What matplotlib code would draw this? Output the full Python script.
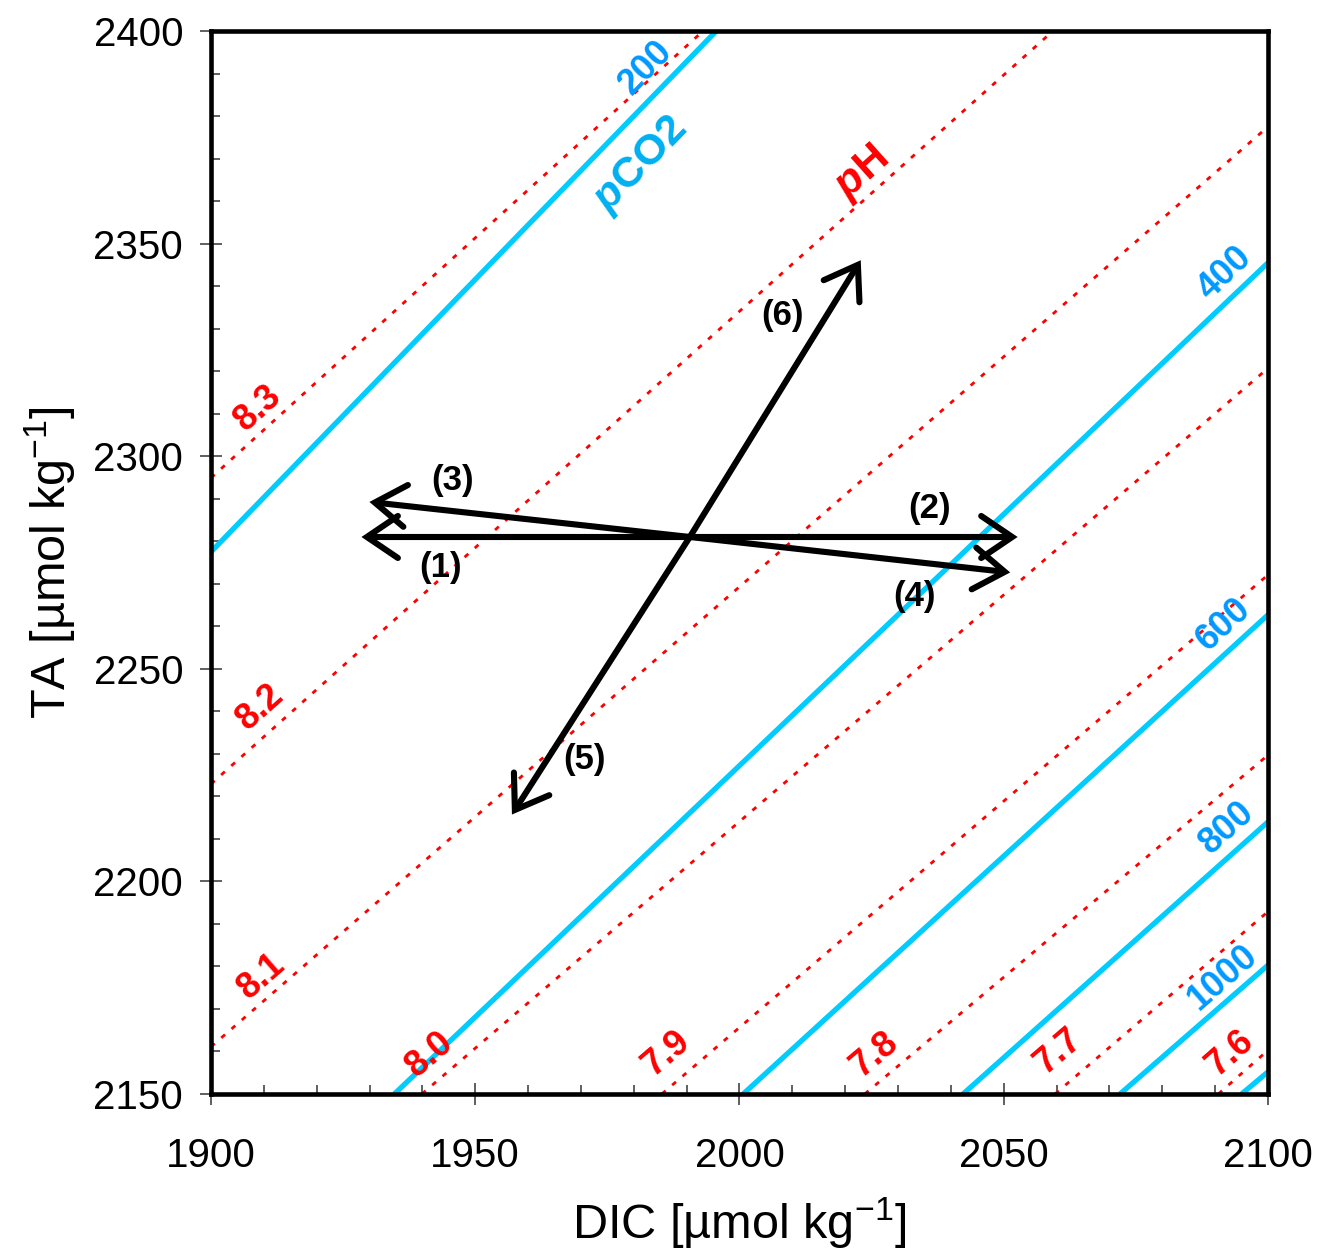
import numpy as np
import matplotlib
matplotlib.use("Agg")
import matplotlib.pyplot as plt
from matplotlib.ticker import MultipleLocator

plt.rcParams['font.family'] = ['Liberation Sans', 'DejaVu Sans']
plt.rcParams['mathtext.fontset'] = 'custom'
plt.rcParams['mathtext.rm'] = 'Liberation Sans'
plt.rcParams['mathtext.it'] = 'Liberation Sans:italic'
plt.rcParams['mathtext.bf'] = 'Liberation Sans:bold'
plt.rcParams['mathtext.bfit'] = 'Liberation Sans:italic:bold'

# pH isolines (start / end points)
ph_levels = ['8.3', '8.2', '8.1', '8.0', '7.9', '7.8', '7.7', '7.6']
ph_dic_start = [1900, 1900, 1900, 1939.9, 1985.3, 2023.7, 2059.7, 2090.6]
ph_ta_start = [2294.9, 2222.9, 2161.1, 2150, 2150, 2150, 2150, 2150]
ph_dic_end = [1993.1, 2059.3, 2100, 2100, 2100, 2100, 2100, 2100]
ph_ta_end = [2400, 2400, 2377.5, 2320.7, 2272.1, 2229.7, 2192.9, 2160.3]
ph_label_dic = [1908.9, 1909.3, 1909.6, 1941.4, 1986.2, 2025.6, 2060.3, 2092.8]
ph_label_ta = [2311.3, 2241.0, 2177.6, 2159.2, 2159.6, 2159.2, 2159.9, 2159.6]

# pCO2 isolines
pco2_levels = ['200', '400', '600', '800', '1000', '']
pco2_dic_start = [1900, 1934.7, 2000.7, 2042.3, 2072.0, 2095.0]
pco2_ta_start = [2277.5, 2150, 2150, 2150, 2150, 2150]
pco2_dic_end = [1995.6, 2100, 2100, 2100, 2100, 2100]
pco2_ta_end = [2400, 2345.5, 2262.7, 2214.0, 2180.3, 2155.2]
pco2_label_dic = [1982.3, 2091.9, 2091.5, 2092.2, 2091.5]
pco2_label_ta = [2391.3, 2343.1, 2260.3, 2212.6, 2177.5]

# process vectors
origin_dic, origin_ta = 1990.6, 2281.0
arrow_dic_tip = [1929.5, 2051.6, 1931.0, 2050.2, 1957.5, 2022.4]
arrow_ta_tip = [2281.0, 2281.0, 2289.1, 2272.8, 2216.8, 2345.0]
arrow_labels = ['(1)', '(2)', '(3)', '(4)', '(5)', '(6)']
arrow_label_dic = [1943.5, 2036.0, 1945.8, 2033.2, 1970.6, 2008.2]
arrow_label_ta = [2273.9, 2287.8, 2294.2, 2267.1, 2228.6, 2333.2]

red = '#FF0000'
cyan = '#00CCFF'
blue_txt = '#0099FF'

fig = plt.figure(figsize=(13.17, 12.55), dpi=100)
ax = fig.add_axes([0.1602, 0.1283, 0.8026, 0.847])
ax.set_xlim(1900, 2100)
ax.set_ylim(2150, 2400)


def line_angle(x0, y0, x1, y1):
    p0 = ax.transData.transform((x0, y0))
    p1 = ax.transData.transform((x1, y1))
    return np.degrees(np.arctan2(p1[1] - p0[1], p1[0] - p0[0]))


for i in range(len(ph_levels)):
    ax.plot([ph_dic_start[i], ph_dic_end[i]], [ph_ta_start[i], ph_ta_end[i]],
            color=red, lw=2, linestyle=(0, (1.8, 3.1)), zorder=2)
    ang = line_angle(ph_dic_start[i], ph_ta_start[i], ph_dic_end[i], ph_ta_end[i])
    ax.text(ph_label_dic[i], ph_label_ta[i], ph_levels[i], color=red, fontsize=26,
            fontweight='bold', rotation=ang, rotation_mode='anchor',
            ha='center', va='center', zorder=4)

for i in range(len(pco2_levels)):
    ax.plot([pco2_dic_start[i], pco2_dic_end[i]], [pco2_ta_start[i], pco2_ta_end[i]],
            color=cyan, lw=3.8, solid_capstyle='butt', zorder=3)
    if pco2_levels[i]:
        ang = line_angle(pco2_dic_start[i], pco2_ta_start[i], pco2_dic_end[i], pco2_ta_end[i])
        ax.text(pco2_label_dic[i], pco2_label_ta[i], pco2_levels[i], color=blue_txt,
                fontsize=26, fontweight='bold', rotation=ang, rotation_mode='anchor',
                ha='center', va='center', zorder=4)

ang200 = line_angle(pco2_dic_start[0], pco2_ta_start[0], pco2_dic_end[0], pco2_ta_end[0])
ax.text(1981.4, 2368.5, r'$\mathbfit{p}$CO2', color='#00B0F0', fontsize=31,
        fontweight='bold', rotation=ang200, rotation_mode='anchor', ha='center', va='center')
ang82 = line_angle(ph_dic_start[1], ph_ta_start[1], ph_dic_end[1], ph_ta_end[1])
ax.text(2023.2, 2366.6, r'$\mathbfit{p}$H', color=red, fontsize=31,
        fontweight='bold', rotation=ang82, rotation_mode='anchor', ha='center', va='center')

# arrows: shaft plus open V head built in pixel space
head_len, head_half = 31.0, 21.0
to_data = ax.transData.inverted()
p_org = ax.transData.transform((origin_dic, origin_ta))
for i in range(len(arrow_labels)):
    p_tip = ax.transData.transform((arrow_dic_tip[i], arrow_ta_tip[i]))
    u = (p_tip - p_org) / np.hypot(*(p_tip - p_org))
    n = np.array([-u[1], u[0]])
    arm1 = to_data.transform(p_tip - head_len * u + head_half * n)
    arm2 = to_data.transform(p_tip - head_len * u - head_half * n)
    ax.plot([origin_dic, arrow_dic_tip[i]], [origin_ta, arrow_ta_tip[i]],
            color='black', lw=4.4, solid_capstyle='butt', zorder=6)
    ax.plot([arm1[0], arrow_dic_tip[i], arm2[0]], [arm1[1], arrow_ta_tip[i], arm2[1]],
            color='black', lw=4.4, solid_joinstyle='miter', solid_capstyle='round', zorder=6)
    ax.text(arrow_label_dic[i], arrow_label_ta[i], arrow_labels[i], fontsize=25,
            fontweight='bold', ha='center', va='center', zorder=7)

ax.xaxis.set_major_locator(MultipleLocator(50))
ax.xaxis.set_minor_locator(MultipleLocator(10))
ax.yaxis.set_major_locator(MultipleLocator(50))
ax.yaxis.set_minor_locator(MultipleLocator(10))
ax.tick_params(which='major', direction='inout', length=16, width=1.2, color='#444444',
               labelsize=29, top=False, right=False)
ax.tick_params(axis='y', which='major', pad=12)
ax.tick_params(axis='x', which='major', pad=23)
ax.tick_params(which='minor', direction='in', length=6.5, width=1.2, color='#444444',
               top=False, right=False)
for sp in ax.spines.values():
    sp.set_linewidth(3.3)
    sp.set_zorder(8)

ax.set_xlabel('DIC [µmol kg$^{-1}$]', fontsize=35, labelpad=15)
ax.set_ylabel('TA [µmol kg$^{-1}$]', fontsize=35, labelpad=11)

fig.savefig('out.png', dpi=100)
